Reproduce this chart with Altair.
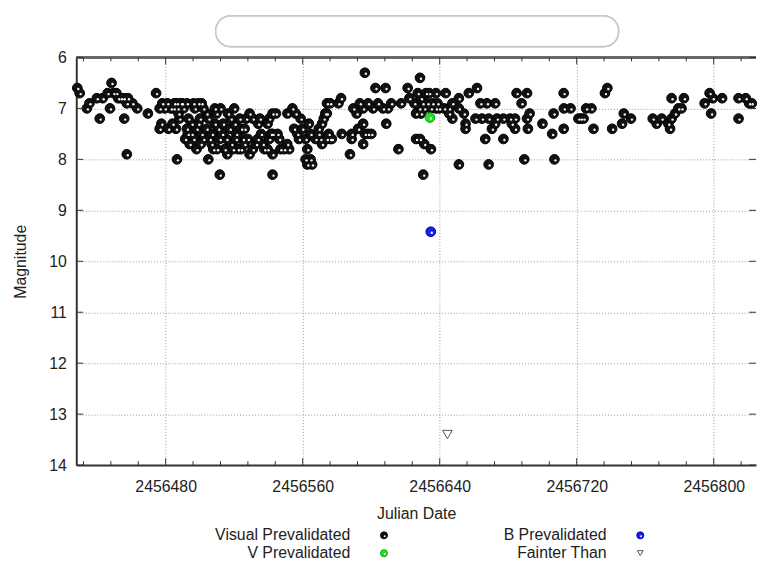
import altair as alt
import pandas as pd

# ---------------- data ----------------
visual_jd = [
    2456428.4, 2456429.8, 2456434.0, 2456435.5, 2456439.8, 2456441.5, 2456443.2, 2456446.1, 2456448.4, 2456447.5,
    2456449.5, 2456451.2, 2456452.3, 2456454.0, 2456455.5, 2456458.0, 2456455.8, 2456457.3, 2456460.6, 2456463.4,
    2456457.3, 2456469.6, 2456474.4, 2456476.5, 2456478.0, 2456479.5, 2456481.0, 2456483.0, 2456485.0, 2456487.0,
    2456489.0, 2456477.5, 2456476.5, 2456481.5, 2456486.0, 2456484.0, 2456488.0, 2456486.6, 2456491.4,
    2456486.6, 2456489.5, 2456492.4, 2456496.2, 2456499.1, 2456501.0, 2456484.7, 2456487.5, 2456490.4, 2456493.3,
    2456495.2, 2456492.4, 2456492.9, 2456495.2, 2456496.2, 2456498.1, 2456499.1, 2456501.0, 2456502.0, 2456503.9,
    2456503.9, 2456505.8, 2456506.8, 2456507.8, 2456508.7, 2456508.7, 2456509.7, 2456510.7, 2456511.6, 2456513.5,
    2456514.5, 2456515.5, 2456516.4, 2456517.4, 2456518.4, 2456519.3, 2456520.3, 2456521.2, 2456522.2, 2456523.2,
    2456524.1, 2456525.1, 2456526.1, 2456527.0, 2456529.0, 2456530.9, 2456528.0, 2456497.0, 2456500.0, 2456502.0,
    2456505.0, 2456507.0, 2456510.0, 2456512.0, 2456513.0, 2456516.0, 2456518.0, 2456520.0, 2456521.0, 2456524.0,
    2456526.0, 2456504.9, 2456511.6, 2456494.0, 2456498.0, 2456500.5,
    2456529.0, 2456530.9, 2456532.8, 2456533.8, 2456535.7, 2456536.7, 2456537.6, 2456539.5, 2456540.5, 2456541.5,
    2456542.4, 2456540.5, 2456542.4, 2456544.4, 2456539.5, 2456542.4, 2456545.3, 2456546.3, 2456547.0, 2456549.2,
    2456551.0, 2456542.4, 2456534.0, 2456535.0,
    2456552.1, 2456551.1, 2456554.0, 2456555.9, 2456555.0, 2456556.9, 2456557.8, 2456558.8, 2456559.8, 2456561.7,
    2456562.7, 2456563.6, 2456564.6, 2456561.7, 2456564.6, 2456562.7, 2456565.5, 2456567.5, 2456569.4, 2456570.4,
    2456571.3, 2456572.3, 2456573.2, 2456574.2, 2456575.2, 2456576.1,
    2456569.3, 2456571.3, 2456574.1, 2456577.0, 2456574.1, 2456576.1, 2456580.9, 2456582.4, 2456582.8, 2456587.6,
    2456588.6, 2456588.6, 2456592.4, 2456595.3, 2456596.3, 2456598.2, 2456595.3, 2456600.1, 2456596.3, 2456589.6,
    2456591.5, 2456593.4, 2456595.3, 2456598.2, 2456601.1, 2456604.0, 2456606.9, 2456609.8, 2456602.5, 2456608.4,
    2456608.8, 2456615.9, 2456611.7, 2456617.5, 2456621.3, 2456622.3, 2456625.2,
    2456628.5, 2456627.2, 2456629.1, 2456632.0, 2456633.9, 2456637.8, 2456630.0, 2456632.9, 2456635.8, 2456638.7,
    2456628.1, 2456631.0, 2456634.9, 2456637.8, 2456639.7, 2456626.2, 2456629.1, 2456626.2, 2456628.5, 2456631.0,
    2456634.9, 2456630.4, 2456643.5, 2456642.6, 2456645.5, 2456647.4, 2456651.2, 2456657.0, 2456661.8, 2456645.5,
    2456647.4, 2456651.2, 2456654.1, 2456655.1, 2456655.1, 2456663.8, 2456667.6, 2456672.4, 2456660.9, 2456664.7,
    2456668.6, 2456673.4, 2456677.2, 2456681.1, 2456684.0, 2456666.6, 2456670.5, 2456672.4, 2456677.2, 2456651.2,
    2456668.6, 2456684.9, 2456687.8, 2456682.1, 2456684.0, 2456689.4,
    2456691.0, 2456691.0, 2456692.5, 2456691.5, 2456700.0, 2456705.7, 2456706.5, 2456707.0, 2456712.4, 2456712.4,
    2456712.5, 2456716.4, 2456721.0, 2456722.5, 2456724.0, 2456725.5, 2456728.6, 2456729.8, 2456736.5, 2456737.9,
    2456740.7, 2456746.5, 2456747.5, 2456751.7,
    2456764.4, 2456766.7, 2456769.6, 2456773.5, 2456774.5, 2456775.4, 2456777.4, 2456779.3, 2456781.2, 2456775.4,
    2456782.6, 2456794.7, 2456797.6, 2456799.5, 2456804.9, 2456798.5, 2456814.5, 2456818.7, 2456820.7, 2456822.2,
    2456814.5,
]
visual_mag = [
    6.6, 6.7, 7.0, 6.9, 6.8, 7.2, 6.8, 6.7, 6.5, 7.0,
    6.7, 6.7, 6.8, 6.8, 6.8, 6.8, 7.2, 6.9, 6.9, 7.0,
    7.9, 7.1, 6.7, 7.0, 6.9, 7.0, 6.9, 7.0, 6.9, 7.0,
    6.9, 7.3, 7.4, 7.4, 7.4, 7.3, 7.2, 8.0, 7.6,
    6.9, 6.9, 6.9, 6.9, 6.9, 6.9, 7.0, 7.1, 7.0, 7.2,
    7.3, 7.4, 7.5, 7.5, 7.6, 7.4, 7.3, 7.5, 7.6, 7.4,
    7.1, 7.6, 7.7, 7.8, 7.3, 7.0, 7.1, 7.4, 7.6, 7.3,
    7.8, 7.6, 7.1, 7.4, 7.7, 7.8, 7.3, 7.5, 7.8, 7.2,
    7.4, 7.6, 7.4, 7.2, 7.1, 7.2, 7.6, 7.0, 7.2, 7.0,
    7.2, 7.5, 7.8, 7.0, 7.5, 7.9, 7.2, 7.0, 7.6, 7.8,
    7.7, 8.0, 8.3, 7.7, 7.8, 7.7,
    7.9, 7.8, 7.7, 7.6, 7.5, 7.7, 7.8, 7.8, 7.6, 7.5,
    7.9, 7.2, 7.1, 7.1, 7.3, 7.5, 7.5, 7.6, 7.8, 7.8,
    7.7, 8.3, 7.3, 7.2,
    7.8, 7.1, 7.0, 7.1, 7.4, 7.5, 7.6, 7.2, 7.4, 7.6,
    7.8, 7.3, 7.5, 8.0, 8.0, 8.1, 8.1, 7.6, 7.4, 7.6,
    7.3, 7.2, 7.1, 6.9, 7.5, 7.6,
    7.5, 7.7, 7.6, 7.6, 7.1, 6.9, 6.9, 6.8, 7.5, 7.9,
    7.5, 7.6, 7.4, 7.3, 7.5, 7.5, 7.7, 7.5, 6.3, 7.0,
    7.1, 6.9, 7.0, 6.9, 7.0, 6.9, 7.0, 7.0, 6.6, 6.6,
    7.3, 7.8, 6.9, 6.9, 6.6, 6.8, 6.9,
    6.4, 6.7, 6.8, 6.7, 6.7, 6.7, 6.9, 6.9, 6.9, 6.9,
    7.0, 7.0, 7.0, 7.0, 7.0, 7.1, 7.1, 7.6, 7.6, 7.7,
    7.8, 8.3, 6.7, 7.0, 7.0, 6.9, 6.8, 6.7, 6.6, 7.1,
    7.2, 7.0, 7.1, 7.3, 7.4, 6.9, 6.9, 6.9, 7.2, 7.2,
    7.2, 7.2, 7.2, 7.2, 7.2, 7.6, 7.4, 7.3, 7.6, 8.1,
    8.1, 6.7, 6.9, 7.3, 7.4, 8.0,
    6.7, 7.2, 7.1, 7.4, 7.3, 7.5, 7.1, 8.0, 6.7, 7.4,
    7.0, 7.0, 7.2, 7.2, 7.2, 7.0, 7.0, 7.4, 6.7, 6.6,
    7.4, 7.3, 7.1, 7.2,
    7.2, 7.3, 7.2, 7.3, 7.4, 7.2, 7.1, 7.0, 7.0, 6.8,
    6.8, 6.9, 6.7, 6.8, 6.8, 7.1, 6.8, 6.8, 6.9, 6.9,
    7.2,
]
v_jd, v_mag = [2456634.3], [7.18]
b_jd, b_mag = [2456634.8], [9.42]
fainter_jd, fainter_mag = [2456644.5], [13.4]

series_order = ["Visual Prevalidated", "B Prevalidated", "V Prevalidated", "Fainter Than"]
fill_colors = ["#111111", "#1c1cf0", "#22e022", "#ffffff"]
stroke_colors = ["#000000", "#0000b0", "#10a010", "#555555"]
shapes = ["circle", "circle", "circle", "triangle-down"]
point_sizes = [96, 96, 96, 42]

x_major = [2456480, 2456560, 2456640, 2456720, 2456800]
x_minor = [2456432, 2456448, 2456464, 2456496, 2456512, 2456528, 2456544, 2456576,
           2456592, 2456608, 2456624, 2456656, 2456672, 2456688, 2456704, 2456736,
           2456752, 2456768, 2456784, 2456816]
y_ticks = [6, 7, 8, 9, 10, 11, 12, 13, 14]
x_domain = [2456427.8, 2456824.7]
y_domain = [6, 14]

# ---------------- tables ----------------
df = pd.concat([
    pd.DataFrame({"jd": visual_jd, "mag": visual_mag, "series": "Visual Prevalidated"}),
    pd.DataFrame({"jd": b_jd, "mag": b_mag, "series": "B Prevalidated"}),
    pd.DataFrame({"jd": v_jd, "mag": v_mag, "series": "V Prevalidated"}),
    pd.DataFrame({"jd": fainter_jd, "mag": fainter_mag, "series": "Fainter Than"}),
], ignore_index=True)
xmaj_df = pd.DataFrame({"jd": x_major})
xmin_df = pd.DataFrame({"jd": x_minor})
ytk_df = pd.DataFrame({"mag": y_ticks})

W, H = 687, 412
FONT = "Liberation Sans"
TXT = "#222222"

xscale = alt.Scale(domain=x_domain, nice=False, zero=False)
yscale = alt.Scale(domain=y_domain, reverse=True, nice=False, zero=False)

xaxis = alt.Axis(values=x_major, format="d", ticks=False, labelPadding=14, titlePadding=11,
                 grid=True, gridDash=[1, 2], gridColor="#9a9a9a", gridWidth=1,
                 domainColor="#333333", domainWidth=2, labelFlush=False)
yaxis = alt.Axis(values=y_ticks, format="d", ticks=False, labelPadding=10, titlePadding=21,
                 grid=True, gridDash=[1, 2], gridColor="#9a9a9a", gridWidth=1,
                 domainColor="#333333", domainWidth=2)

X = alt.X("jd:Q", scale=xscale, axis=xaxis, title="Julian Date")
Y = alt.Y("mag:Q", scale=yscale, axis=yaxis, title="Magnitude")
Xs = alt.X("jd:Q", scale=xscale, title="Julian Date")
Ys = alt.Y("mag:Q", scale=yscale, title="Magnitude")

points = alt.Chart(df).mark_point(filled=True, opacity=1, strokeWidth=1).encode(
    x=X, y=Y,
    fill=alt.Fill("series:N", scale=alt.Scale(domain=series_order, range=fill_colors), legend=None),
    stroke=alt.Stroke("series:N", scale=alt.Scale(domain=series_order, range=stroke_colors), legend=None),
    shape=alt.Shape("series:N", scale=alt.Scale(domain=series_order, range=shapes), legend=None),
    size=alt.Size("series:N", scale=alt.Scale(domain=series_order, range=point_sizes), legend=None),
)

highlight = alt.Chart(df).transform_filter(
    "datum.series != 'Fainter Than'"
).mark_circle(size=6, color="#ffffff", opacity=0.95, xOffset=1, yOffset=1).encode(x=Xs, y=Ys)

tick_color = "#333333"
bottom_major = alt.Chart(xmaj_df).mark_rule(color=tick_color, strokeWidth=1).encode(
    x=Xs, y=alt.value(H), y2=alt.value(H - 7))
bottom_minor = alt.Chart(xmin_df).mark_rule(color=tick_color, strokeWidth=1).encode(
    x=Xs, y=alt.value(H), y2=alt.value(H - 4))
top_major = alt.Chart(xmaj_df).mark_rule(color=tick_color, strokeWidth=1).encode(
    x=Xs, y=alt.value(0), y2=alt.value(7))
top_minor = alt.Chart(xmin_df).mark_rule(color=tick_color, strokeWidth=1).encode(
    x=Xs, y=alt.value(0), y2=alt.value(4))
left_ticks = alt.Chart(ytk_df).mark_rule(color=tick_color, strokeWidth=1).encode(
    y=Ys, x=alt.value(0), x2=alt.value(7))
right_ticks = alt.Chart(ytk_df).mark_rule(color=tick_color, strokeWidth=1).encode(
    y=Ys, x=alt.value(W - 7), x2=alt.value(W))
top_border = alt.Chart(xmaj_df).mark_rule(color="#666666", strokeWidth=2).encode(
    x=alt.value(0), x2=alt.value(W), y=alt.value(0))

# redacted title cloud at the top
title_blob = alt.Chart(xmaj_df).mark_rect(
    fill="#ffffff", stroke="#c8c8c8", strokeWidth=1.5, cornerRadius=15
).encode(x=alt.value(141), x2=alt.value(548), y=alt.value(-42), y2=alt.value(-11))

# ---------------- legend (label on the left, symbol on the right) ----------------
legend_layout = {  # series -> (label right edge, symbol x, row y) in plot pixels
    "Visual Prevalidated": (277, 311, 483),
    "V Prevalidated": (277, 311, 501),
    "B Prevalidated": (536, 570, 483),
    "Fainter Than": (536, 570, 501),
}
legend_layers = []
for i, name in enumerate(series_order):
    lx, sx, ly = legend_layout[name]
    one = pd.DataFrame({"series": [name]})
    legend_layers.append(
        alt.Chart(one).mark_text(align="right", baseline="middle", font=FONT,
                                 fontSize=16, color=TXT).encode(
            text="series:N", x=alt.value(lx), y=alt.value(ly)))
    legend_layers.append(
        alt.Chart(one).mark_point(filled=True, opacity=1, shape=shapes[i], fill=fill_colors[i],
                                  stroke=stroke_colors[i], strokeWidth=1,
                                  size=50 if shapes[i] == "circle" else 34).encode(
            x=alt.value(sx), y=alt.value(ly)))
    if shapes[i] == "circle":
        legend_layers.append(
            alt.Chart(one).mark_circle(size=4, color="#ffffff", opacity=0.95).encode(
                x=alt.value(sx + 0.8), y=alt.value(ly + 0.8)))

chart = alt.layer(
    title_blob, top_border, points, highlight,
    bottom_major, bottom_minor, top_major, top_minor, left_ticks, right_ticks,
    *legend_layers,
).properties(
    width=W, height=H,
    autosize=alt.AutoSizeParams(type="none"),
    padding={"left": 69, "top": 47, "right": 1, "bottom": 100},
).configure_view(
    stroke=None
).configure_axis(
    labelFont=FONT, titleFont=FONT, labelFontSize=16, titleFontSize=16,
    labelColor=TXT, titleColor=TXT, titleFontWeight="normal",
)

chart.save("out.html", embed_options={"renderer": "svg", "actions": False})
